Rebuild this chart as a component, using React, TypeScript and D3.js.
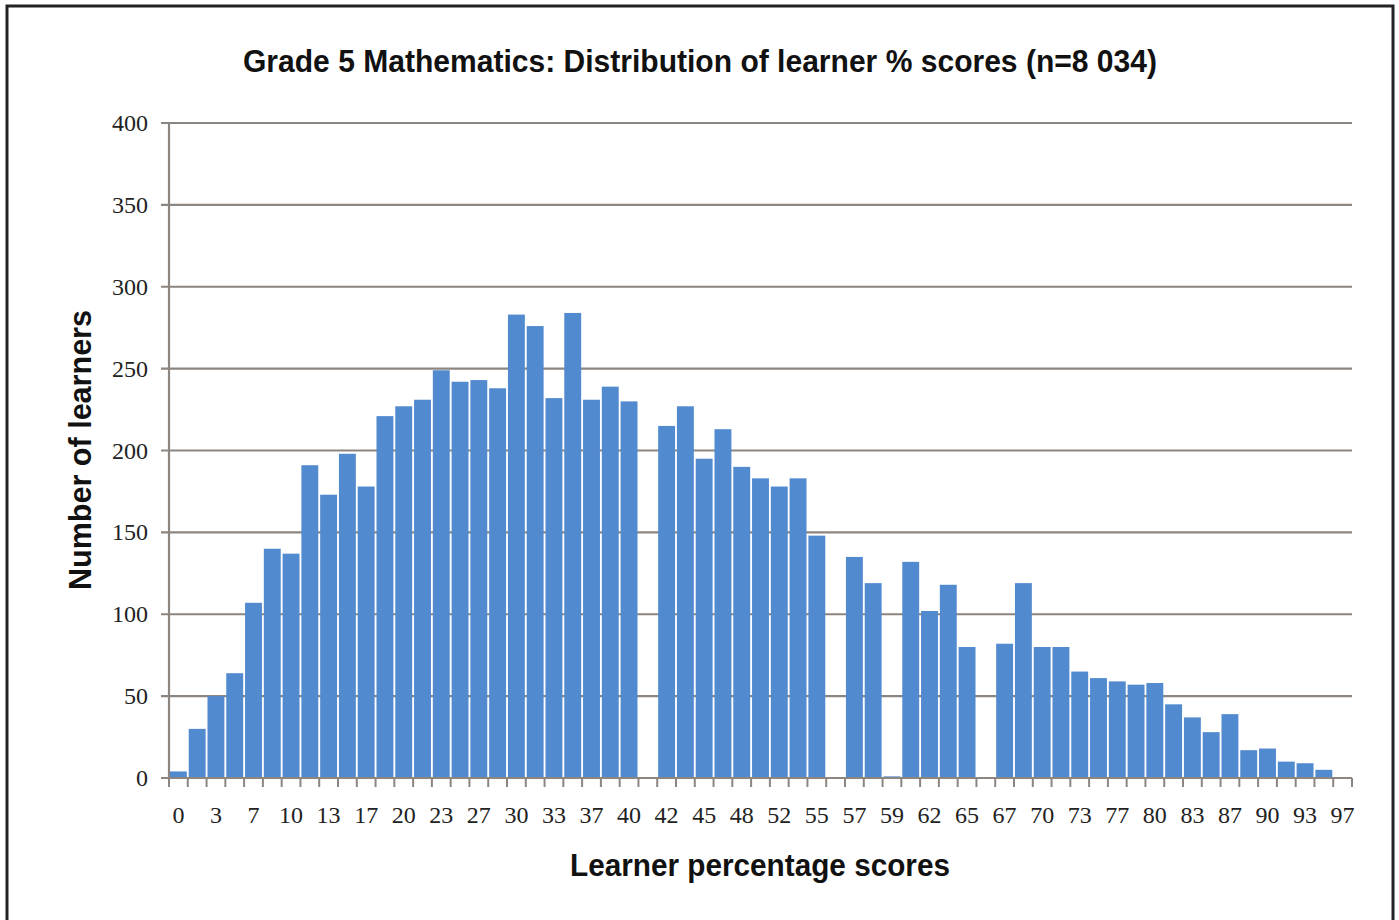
import * as d3 from 'd3';

// score categories (only every second one is labelled on the axis)
const scores = [
  '0', '2', '3', '5', '7', '8', '10', '12', '13', '15', '17', '18', '20', '22', '23', '25',
  '27', '28', '30', '32', '33', '35', '37', '38', '40', '41', '42', '43', '45', '47', '48', '50',
  '52', '53', '55', '56', '57', '58', '59', '60', '62', '63', '65', '66', '67', '68', '70', '72',
  '73', '75', '77', '78', '80', '82', '83', '85', '87', '88', '90', '92', '93', '95', '97',
];

const learners = [
  4, 30, 50, 64, 107, 140, 137, 191, 173, 198, 178, 221, 227, 231, 249, 242,
  243, 238, 283, 276, 232, 284, 231, 239, 230, 0, 215, 227, 195, 213, 190, 183,
  178, 183, 148, 0, 135, 119, 1, 132, 102, 118, 80, 0, 82, 119, 80, 80,
  65, 61, 59, 57, 58, 45, 37, 28, 39, 17, 18, 10, 9, 5, 0,
];

const yTicks = [0, 50, 100, 150, 200, 250, 300, 350, 400];

const W = 1399;
const H = 920;
const LEFT = 169;
const RIGHT = 1352;
const TOP = 123;
const BOTTOM = 778;

const GRID = '#8c8580';
const BAR = '#528ad0';
const NARROW = "'Liberation Sans Narrow', 'Arial Narrow', 'Liberation Sans', sans-serif";
const SERIF = "'Liberation Serif', 'Times New Roman', serif";

export default function App() {
  const x = d3.scaleBand<string>()
    .domain(scores)
    .range([LEFT, RIGHT])
    .paddingInner(0.1)
    .paddingOuter(0.05);
  const y = d3.scaleLinear().domain([0, 400]).range([BOTTOM, TOP]);

  const half = (x.step() - x.bandwidth()) / 2;
  const bounds = scores.map((s) => (x(s) ?? 0) - half).concat([RIGHT]);

  return (
    <svg
      width={W}
      height={H}
      style={{ position: 'absolute', left: 0, top: 0, background: '#fff' }}
    >
      <rect x={7} y={6} width={1386} height={930} fill="none" stroke="#222" strokeWidth={3} />

      <text
        x={700}
        y={72}
        textAnchor="middle"
        fontFamily={NARROW}
        fontWeight="bold"
        fontSize={31}
        textLength={914}
        lengthAdjust="spacingAndGlyphs"
        fill="#111"
      >
        Grade 5 Mathematics: Distribution of learner % scores (n=8 034)
      </text>

      {yTicks.map((t) => (
        <g key={t}>
          <line x1={LEFT - 8} x2={RIGHT} y1={y(t)} y2={y(t)} stroke={GRID} strokeWidth={2.2} />
          <text
            x={148}
            y={y(t) + 8}
            textAnchor="end"
            fontFamily={SERIF}
            fontSize={24}
            fill="#222"
          >
            {t}
          </text>
        </g>
      ))}

      {learners.map((v, i) => (
        <rect
          key={scores[i]}
          x={x(scores[i])}
          y={y(v)}
          width={x.bandwidth()}
          height={BOTTOM - y(v)}
          fill={BAR}
        />
      ))}

      <line x1={LEFT} x2={LEFT} y1={TOP} y2={BOTTOM} stroke={GRID} strokeWidth={2.2} />
      <line x1={LEFT} x2={RIGHT} y1={BOTTOM} y2={BOTTOM} stroke={GRID} strokeWidth={2.2} />
      {bounds.map((b, i) => (
        <line key={i} x1={b} x2={b} y1={BOTTOM} y2={BOTTOM + 9} stroke={GRID} strokeWidth={2} />
      ))}

      {scores.map((s, i) => (i % 2 === 0 ? (
        <text
          key={s}
          x={(x(s) ?? 0) + x.bandwidth() / 2}
          y={823}
          textAnchor="middle"
          fontFamily={SERIF}
          fontSize={24}
          fill="#222"
        >
          {s}
        </text>
      ) : null))}

      <text
        x={760}
        y={876}
        textAnchor="middle"
        fontFamily={NARROW}
        fontWeight="bold"
        fontSize={31}
        textLength={380}
        lengthAdjust="spacingAndGlyphs"
        fill="#111"
      >
        Learner percentage scores
      </text>

      <text
        transform="translate(91, 450) rotate(-90)"
        textAnchor="middle"
        fontFamily={NARROW}
        fontWeight="bold"
        fontSize={31}
        textLength={280}
        lengthAdjust="spacingAndGlyphs"
        fill="#111"
      >
        Number of learners
      </text>
    </svg>
  );
}
